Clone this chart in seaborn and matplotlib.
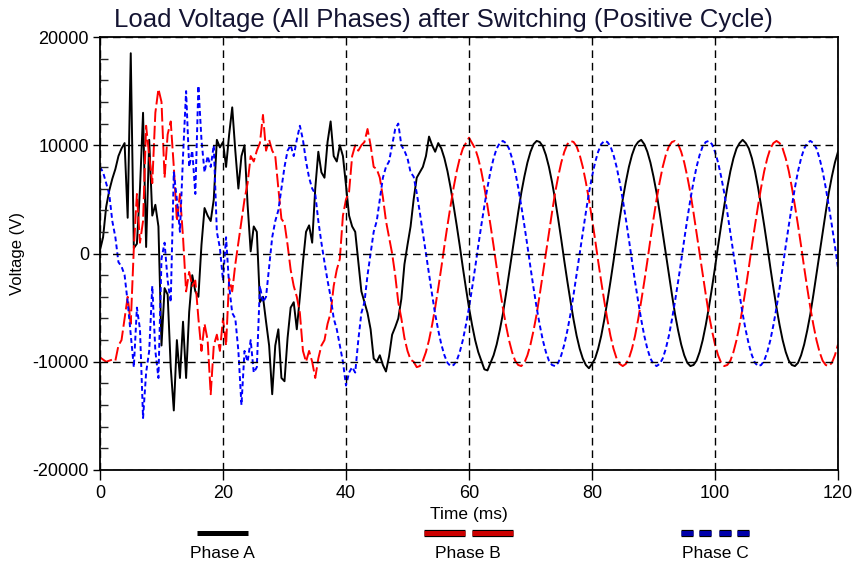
import numpy as np
import pandas as pd
import matplotlib
matplotlib.use("Agg")
import matplotlib.pyplot as plt
import matplotlib.patheffects as pe
from matplotlib.lines import Line2D
from matplotlib.ticker import MultipleLocator
import seaborn as sns

# Sample grid: 0 .. 120 ms, one sample every 0.5 ms (one row below = 5 ms)
time_ms = np.arange(241) * 0.5

phase_a = [
    300, 1500, 4300, 5800, 6900, 7800, 9000, 9700, 10200, 3300,
    18500, 500, 900, 6000, 13000, 600, 10500, 3500, 4500, 2500,
    -8500, -3200, -3800, -10500, -14500, -8000, -11500, -6300, -11500, -5400,
    -2000, -3500, -4000, 800, 4200, 3500, 3000, 5000, 10500, 9800,
    10300, 8000, 11000, 13500, 9500, 6000, 9000, 10000, 4500, 200,
    2500, 2000, -4500, -4000, -6300, -8500, -13000, -8500, -7000, -11500,
    -11800, -7800, -5000, -4500, -7000, -4000, -800, 2000, 2600, 1000,
    6000, 9400, 7500, 7000, 10300, 12200, 9000, 8500, 10000, 9000,
    6300, 3500, 2500, 2000, -800, -3500, -4500, -5500, -7000, -9700,
    -10000, -9400, -10300, -10900, -9500, -7500, -6800, -6000, -4200, -1000,
    800, 2500, 5000, 7000, 7500, 8000, 9000, 10800, 10000, 9400,
    10200, 9700, 8800, 7600, 6100, 4400, 2600, 700, -1300, -3200,
    -5000, -6600, -8000, -9100, -9900, -10700, -10800, -10100, -9400, -8400,
    -7100, -5600, -3800, -1900, 0, 1900, 3800, 5600, 7100, 8400,
    9400, 10100, 10400, 10300, 9900, 9100, 8000, 6600, 5000, 3200,
    1300, -700, -2600, -4400, -6100, -7600, -8800, -9700, -10300, -10600,
    -10200, -9700, -8800, -7600, -6100, -4400, -2600, -700, 1300, 3200,
    5000, 6600, 8000, 9100, 9900, 10300, 10500, 10100, 9400, 8400,
    7100, 5600, 3800, 1900, 0, -1900, -3800, -5600, -7100, -8400,
    -9400, -10100, -10400, -10300, -9900, -9100, -8000, -6600, -5000, -3200,
    -1300, 700, 2600, 4400, 6100, 7600, 8800, 9700, 10200, 10500,
    10200, 9700, 8800, 7600, 6100, 4400, 2600, 700, -1300, -3200,
    -5000, -6600, -8000, -9100, -9900, -10300, -10400, -10100, -9400, -8400,
    -7100, -5600, -3800, -1900, 0, 1900, 3800, 5600, 7100, 8400,
    9400,
]

phase_b = [
    -9600, -9800, -10000, -9900, -9800, -9900, -8500, -8000, -6000, -4000,
    -6500, 500, 5500, 1000, 3000, 11800, 9000, 6500, 13000, 15200,
    14000, 7000, 11000, 12200, 8000, 3000, 5500, 1500, -3500, -1700,
    -3000, -2500, -6000, -9000, -6500, -8000, -13000, -8500, -7500, -9000,
    -6000, -8500, -2300, -3500, -1000, 1000, 3000, 5000, 6500, 9000,
    8500, 9500, 10200, 12800, 9500, 10500, 9500, 9000, 6000, 3200,
    2800, 800, -1500, -3000, -4000, -5500, -9000, -10000, -9000, -10000,
    -11500, -9700, -8500, -8000, -6500, -5500, -3000, -1500, -500, 3500,
    5000, 5700, 9000, 10000, 9500, 10000, 10300, 11500, 10000, 8000,
    7800, 7000, 5200, 3000, 1500, 0, -2000, -4500, -6000, -7800,
    -9000, -9800, -10000, -10500, -10400, -9900, -9100, -8000, -6600, -5000,
    -3200, -1300, 700, 2600, 4400, 6100, 7600, 8800, 9700, 10200,
    10700, 10200, 9700, 8800, 7600, 6100, 4400, 2600, 700, -1300,
    -3200, -5000, -6600, -8000, -9100, -9900, -10300, -10400, -10100, -9400,
    -8400, -7100, -5600, -3800, -1900, 0, 1900, 3800, 5600, 7100,
    8400, 9400, 10100, 10400, 10300, 9900, 9100, 8000, 6600, 5000,
    3200, 1300, -700, -2600, -4400, -6100, -7600, -8800, -9700, -10200,
    -10400, -10200, -9700, -8800, -7600, -6100, -4400, -2600, -700, 1300,
    3200, 5000, 6600, 8000, 9100, 9900, 10300, 10400, 10100, 9400,
    8400, 7100, 5600, 3800, 1900, 0, -1900, -3800, -5600, -7100,
    -8400, -9400, -10100, -10400, -10300, -9900, -9100, -8000, -6600, -5000,
    -3200, -1300, 700, 2600, 4400, 6100, 7600, 8800, 9700, 10200,
    10400, 10200, 9700, 8800, 7600, 6100, 4400, 2600, 700, -1300,
    -3200, -5000, -6600, -8000, -9100, -9900, -10300, -10400, -10100, -9400,
    -8400,
]

phase_c = [
    8000, 7500, 6500, 5500, 3000, 1500, -800, -1200, -2000, -4500,
    -7500, -10500, -5000, -7000, -15200, -11000, -9000, -3000, -9000, -11500,
    -500, 1000, -2500, -4500, 7500, 5000, 2000, 9000, 15000, 8000,
    9500, 5500, 15500, 10500, 7500, 9000, 8000, 10000, 2000, 500,
    -2500, 1500, -3000, -5500, -6000, -9000, -14000, -9000, -10000, -8000,
    -11000, -10500, -3000, -4500, -4000, -1200, 1500, 3000, 4000, 6000,
    8000, 9500, 10000, 9000, 10500, 11800, 10500, 8500, 7000, 6000,
    5500, 3000, 1000, -800, -2500, -4000, -6000, -7000, -8500, -10000,
    -12200, -11000, -10500, -11000, -8000, -5500, -4500, -2000, 0, 2000,
    3000, 5000, 7000, 8000, 8500, 10000, 11500, 12000, 10000, 9500,
    8800, 7500, 7100, 5600, 3800, 1900, 0, -1900, -3800, -5600,
    -7100, -8400, -9400, -10100, -10400, -10300, -9900, -9100, -8000, -6600,
    -5000, -3200, -1300, 700, 2600, 4400, 6100, 7600, 8800, 9700,
    10200, 10400, 10200, 9700, 8800, 7600, 6100, 4400, 2600, 700,
    -1300, -3200, -5000, -6600, -8000, -9100, -9900, -10300, -10400, -10100,
    -9400, -8400, -7100, -5600, -3800, -1900, 0, 1900, 3800, 5600,
    7100, 8400, 9400, 10100, 10400, 10300, 9900, 9100, 8000, 6600,
    5000, 3200, 1300, -700, -2600, -4400, -6100, -7600, -8800, -9700,
    -10200, -10400, -10200, -9700, -8800, -7600, -6100, -4400, -2600, -700,
    1300, 3200, 5000, 6600, 8000, 9100, 9900, 10300, 10400, 10100,
    9400, 8400, 7100, 5600, 3800, 1900, 0, -1900, -3800, -5600,
    -7100, -8400, -9400, -10100, -10400, -10300, -9900, -9100, -8000, -6600,
    -5000, -3200, -1300, 700, 2600, 4400, 6100, 7600, 8800, 9700,
    10200, 10400, 10200, 9700, 8800, 7600, 6100, 4400, 2600, 700,
    -1300,
]

phase_names = ["Phase A", "Phase B", "Phase C"]
phase_colors = {"Phase A": "#000000", "Phase B": "#ff0000", "Phase C": "#0000ff"}
phase_dashes = {"Phase A": "", "Phase B": (7, 2), "Phase C": (2.5, 1.6)}

x_ticks = [0, 20, 40, 60, 80, 100, 120]
y_ticks = [-20000, -10000, 0, 10000, 20000]

title_text = "Load Voltage (All Phases) after Switching (Positive Cycle)"

df = pd.DataFrame({
    "Time (ms)": np.tile(time_ms, 3),
    "Voltage (V)": np.concatenate([phase_a, phase_b, phase_c]),
    "Phase": np.repeat(phase_names, len(time_ms)),
})

sns.set_theme(style="white")
plt.rcParams["font.family"] = ["Liberation Sans", "DejaVu Sans"]
plt.rcParams["axes.unicode_minus"] = False

W, H = 855, 563
fig = plt.figure(figsize=(W / 100, H / 100), dpi=100)
fig.patch.set_facecolor("white")
ax = fig.add_axes([100 / W, (H - 470) / H, 738 / W, 433 / H])
ax.set_facecolor("white")

sns.lineplot(
    data=df, x="Time (ms)", y="Voltage (V)", hue="Phase", style="Phase",
    palette=phase_colors, dashes=phase_dashes, estimator=None, sort=False,
    linewidth=1.4, legend=False, ax=ax,
)

ax.set_xlim(x_ticks[0], x_ticks[-1])
ax.set_ylim(y_ticks[0], y_ticks[-1])
ax.set_xticks(x_ticks)
ax.set_yticks(y_ticks)
ax.yaxis.set_minor_locator(MultipleLocator(2000))

ax.grid(True, which="major", color="black", linestyle=(0, (5.5, 3.5)), linewidth=1.0)
ax.set_axisbelow(False)

for side in ["left", "right", "top", "bottom"]:
    ax.spines[side].set_visible(True)
    ax.spines[side].set_color("black")
    ax.spines[side].set_linewidth(1.3)

ax.tick_params(axis="y", which="major", direction="out", length=5, width=1.0,
               labelsize=13, pad=3, colors="black", left=True, right=False)
ax.tick_params(axis="y", which="minor", direction="in", length=6, width=1.0,
               left=True, right=False)
ax.tick_params(axis="x", which="major", direction="out", length=7, width=1.0,
               labelsize=13, pad=4, colors="black", bottom=True, top=False)

ax.set_xlabel("Time (ms)", fontsize=12.5, color="black")
ax.xaxis.set_label_coords(0.5, -(515 - 470) / 433)
ax.xaxis.label.set_va("center")
ax.set_ylabel("Voltage (V)", fontsize=12, color="black")
ax.yaxis.set_label_coords(-(100 - 18) / 738, 0.5)
ax.yaxis.label.set_va("center")

fig.text(443 / W, 1 - 20 / H, title_text, ha="center", va="center",
         fontsize=18.5, color="#141432")

# Legend row under the axis: swatch above each label
def fy(y):
    return 1 - y / H

def swatch(x0, x1, y, color, outline):
    effects = [pe.Stroke(linewidth=5.2, foreground="black"), pe.Normal()] if outline else None
    fig.add_artist(Line2D([x0 / W, x1 / W], [fy(y), fy(y)], transform=fig.transFigure,
                          color=color, linewidth=3.6, solid_capstyle="butt",
                          path_effects=effects))

swatch(197, 248, 533, "#000000", False)
swatch(424, 465, 533, "#cc0000", True)
swatch(472, 513, 533, "#cc0000", True)
for x0 in (681, 699, 719, 737):
    swatch(x0, x0 + 12, 533, "#0000aa", True)

for label, xc in zip(phase_names, (222, 468, 715)):
    fig.text(xc / W, fy(553), label, ha="center", va="center", fontsize=12.5, color="black")

fig.savefig("out.png", dpi=100)
